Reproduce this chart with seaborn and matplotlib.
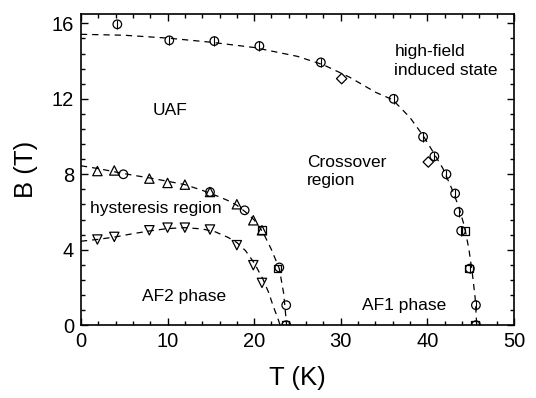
import matplotlib
matplotlib.use("Agg")
import matplotlib.pyplot as plt
import seaborn as sns
import pandas as pd
from matplotlib.ticker import MultipleLocator

# ---- data ----
circ_T = [4.2, 10.2, 15.4, 20.6, 27.7, 36.1, 39.5, 40.8, 42.2, 43.2, 43.6, 43.9, 44.9, 45.6, 45.6,
          4.9, 14.9, 18.9, 22.9, 23.7, 23.7]
circ_B = [15.95, 15.1, 15.06, 14.8, 13.93, 12.0, 9.98, 8.95, 8.0, 6.98, 6.0, 5.0, 3.0, 1.06, 0.0,
          8.0, 7.06, 6.09, 3.06, 1.06, 0.0]
diam_T = [30.1, 40.1]
diam_B = [13.07, 8.65]
sq_T = [44.4, 44.8, 45.5, 20.9, 22.7, 23.6]
sq_B = [5.0, 3.0, 0.0, 5.03, 3.0, 0.0]
up_T = [1.9, 3.85, 7.9, 10.0, 12.0, 14.9, 18.0, 19.9, 20.9]
up_B = [8.17, 8.2, 7.77, 7.54, 7.45, 7.06, 6.41, 5.56, 5.03]
down_T = [1.9, 3.85, 7.9, 10.0, 12.0, 14.9, 18.0, 19.9, 20.9]
down_B = [4.54, 4.68, 5.03, 5.17, 5.17, 5.07, 4.24, 3.18, 2.24]

# dashed guide curves
outer_T = [0, 5, 10, 15, 20, 25, 28, 31, 34, 36, 38, 39.5, 40.5, 41.8, 42.8, 43.6, 44.3, 44.8, 45.2, 45.5, 45.7]
outer_B = [15.42, 15.37, 15.22, 15.0, 14.72, 14.25, 13.8, 13.15, 12.35, 11.95, 11.0, 10.05, 9.3, 8.3, 7.25, 6.3, 5.2, 4.0, 2.7, 1.5, 0.0]
upper_T = [0, 2, 4, 6, 8, 10, 12, 14, 16, 17, 18, 19, 20, 21, 22, 22.9, 23.4, 23.75]
upper_B = [8.45, 8.3, 8.12, 7.95, 7.8, 7.63, 7.45, 7.15, 6.8, 6.6, 6.36, 6.0, 5.58, 4.94, 4.0, 3.0, 1.7, 0.0]
lower_T = [0, 2, 4, 6, 8, 10, 12, 14, 15.5, 17, 18, 19, 20, 21, 21.7, 22.2, 22.7, 23.0]
lower_B = [4.45, 4.55, 4.68, 4.85, 5.0, 5.12, 5.17, 5.1, 4.95, 4.65, 4.38, 3.95, 3.3, 2.45, 1.7, 1.0, 0.4, 0.0]

labels = ["UAF", "high-field\ninduced state", "Crossover\nregion", "hysteresis region", "AF2 phase", "AF1 phase"]

sns.set_style("ticks")
plt.rcParams['font.family'] = ['Liberation Sans', 'DejaVu Sans']
plt.rcParams.update({"text.color": "black", "axes.labelcolor": "black",
                     "xtick.color": "black", "ytick.color": "black",
                     "xtick.labelcolor": "black", "ytick.labelcolor": "black"})

fig = plt.figure(figsize=(5.36, 3.98), dpi=100)
ax = fig.add_axes([0.151, 0.183, 0.808, 0.782])

for T, B in [(outer_T, outer_B), (upper_T, upper_B), (lower_T, lower_B)]:
    sns.lineplot(x=T, y=B, ax=ax, sort=False, estimator=None, color="black",
                 linestyle=(0, (5, 4)), linewidth=0.9)

kw = dict(facecolor="none", edgecolor="black", linewidth=0.9, ax=ax, zorder=3, legend=False)
sns.scatterplot(x=circ_T, y=circ_B, marker="o", s=38, **kw)
sns.scatterplot(x=diam_T, y=diam_B, marker="D", s=28, **kw)
sns.scatterplot(x=sq_T, y=sq_B, marker="s", s=30, **kw)
sns.scatterplot(x=up_T, y=up_B, marker="^", s=45, **kw)
sns.scatterplot(x=down_T, y=down_B, marker="v", s=45, **kw)

# small error bars
ax.errorbar(circ_T[:15], circ_B[:15], yerr=0.25, fmt="none", ecolor="black", elinewidth=0.8, zorder=2)

ax.set_xlim(0, 50)
ax.set_ylim(0, 16.5)
ax.xaxis.set_major_locator(MultipleLocator(10))
ax.xaxis.set_minor_locator(MultipleLocator(2))
ax.yaxis.set_major_locator(MultipleLocator(4))
ax.yaxis.set_minor_locator(MultipleLocator(0.8))
ax.tick_params(which="both", direction="in", top=True, right=True, width=1, labelsize=14.5,
               color="black", labelcolor="black")
ax.tick_params(which="major", length=5, pad=5)
ax.tick_params(which="minor", length=3)
for sp in ax.spines.values():
    sp.set_linewidth(1.2)
    sp.set_color("black")

ax.set_xlabel("T (K)", fontsize=18.5, labelpad=11, color="black")
ax.set_ylabel("B (T)", fontsize=18.5, labelpad=10, color="black")

fs = 12.5
ax.text(10.3, 11.4, labels[0], fontsize=fs, ha="center", va="center", color="black")
ax.text(36.2, 14.0, labels[1], fontsize=fs, ha="left", va="center", linespacing=1.3, color="black")
ax.text(26.1, 8.15, labels[2], fontsize=fs, ha="left", va="center", linespacing=1.3, color="black")
ax.text(1.0, 6.18, labels[3], fontsize=fs, ha="left", va="center", color="black")
ax.text(7.0, 1.5, labels[4], fontsize=fs, ha="left", va="center", color="black")
ax.text(32.4, 1.06, labels[5], fontsize=fs, ha="left", va="center", color="black")

fig.savefig("out.png", dpi=100)
